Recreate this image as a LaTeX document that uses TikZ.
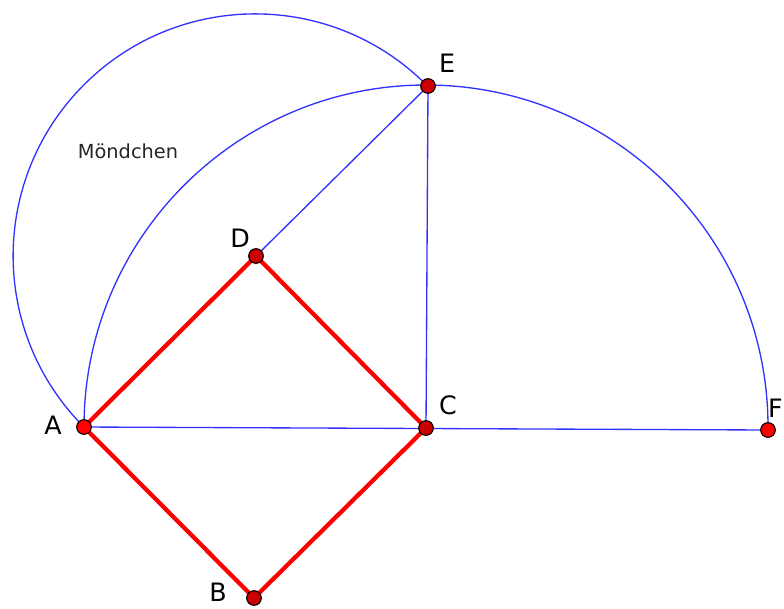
\documentclass[tikz,border=0pt]{standalone}
\usepackage{fontspec}
\setmainfont{DejaVu Sans}
\begin{document}
\begin{tikzpicture}[x=0.75pt,y=-0.75pt,
  blueline/.style={draw=blue!80!white,line width=1pt},
  redline/.style={draw=red,line width=3.2pt,line cap=round},
  pt/.style={circle,draw=black,line width=0.8pt,fill=red!80!black,minimum size=11pt,inner sep=0pt},
  ptb/.style={pt,fill=red},
  lab/.style={font=\fontsize{19}{19}\selectfont,inner sep=0pt}]
\useasboundingbox (0,0) rectangle (784,608);
\coordinate (A) at (84,427);
\coordinate (C) at (426,428);
\coordinate (D) at (256,256);
\coordinate (B) at (254,598);
\coordinate (E) at (428,86);
\coordinate (F) at (768,430);
% arcs
\draw[blueline] (A) arc[start angle=180,end angle=360,radius=342];
\draw[blueline] (A) arc[start angle=135,end angle=315,radius=242];
% lines
\draw[blueline] (A) -- (F);
\draw[blueline] (C) -- (E);
\draw[blueline] (D) -- (E);
\draw[redline] (A) -- (D) -- (C) -- (B) -- cycle;
% points
\node[ptb] (pA) at (A) {};
\node[pt] (pC) at (C) {};
\node[pt] (pD) at (D) {};
\node[pt] (pB) at (B) {};
\node[pt] (pE) at (E) {};
\node[ptb] (pF) at (F) {};
% labels
\node[lab] (lA) at (53,425) {A};
\node[lab] (lB) at (218,592) {B};
\node[lab] (lC) at (448,405) {C};
\node[lab] (lD) at (240,238) {D};
\node[lab] (lE) at (447,63) {E};
\node[lab,anchor=east] (lF) at (783,408) {F};
\node[font=\fontsize{14.5}{14.5}\selectfont,text=black!85,inner sep=0pt] (m) at (128,151) {Möndchen};
\end{tikzpicture}
\end{document}
